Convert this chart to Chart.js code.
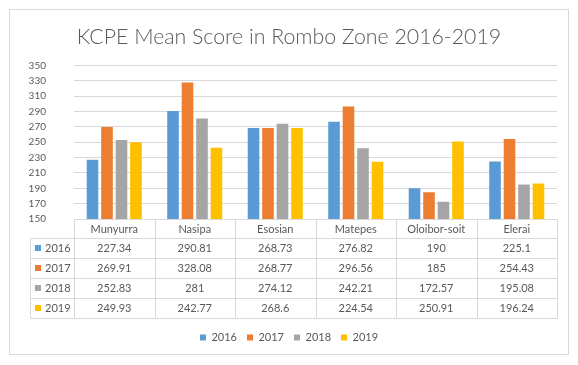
<!DOCTYPE html>
<html><head><meta charset="utf-8">
<script src="https://cdn.jsdelivr.net/npm/chart.js@4"></script>
<style>html,body{margin:0;padding:0;background:#fff}canvas{display:block}</style>
</head><body>
<canvas id="c" width="578" height="365"></canvas>
<script>
const categories = ['Munyurra','Nasipa','Esosian','Matepes','Oloibor-soit','Elerai'];
const seriesNames = ['2016','2017','2018','2019'];
const s2016 = [227.34,290.81,268.73,276.82,190,225.1];
const s2017 = [269.91,328.08,268.77,296.56,185,254.43];
const s2018 = [252.83,281,274.12,242.21,172.57,195.08];
const s2019 = [249.93,242.77,268.6,224.54,250.91,196.24];
const yMin = 150, yMax = 350, yStep = 20;
const titleText = 'KCPE Mean Score in Rombo Zone 2016-2019';
const colors = ['#5B9BD5','#ED7D31','#A5A5A5','#FFC000'];
const allSeries = [s2016, s2017, s2018, s2019];

const FONT = 'Lato, "Open Sans", sans-serif';
const TXT = '#595959';
const LINE = '#D9D9D9';

const frame = {
  id: 'frame',
  beforeDraw(chart) {
    const ctx = chart.ctx;
    ctx.save();
    ctx.fillStyle = '#fff';
    ctx.fillRect(0, 0, chart.width, chart.height);
    ctx.strokeStyle = LINE; ctx.lineWidth = 1;
    ctx.strokeRect(9.5, 9.5, 559, 345);
    ctx.restore();
  }
};

const dataTable = {
  id: 'dataTable',
  afterDraw(chart) {
    const ctx = chart.ctx, xs = chart.scales.x;
    const n = categories.length, per = (xs.right - xs.left) / n;
    const top = Math.round(chart.chartArea.bottom);
    const headH = 19, rowH = 20, keyLeft = 30;
    const bottom = top + headH + rowH * allSeries.length;
    const px = v => Math.round(v) + 0.5;
    ctx.save();
    ctx.strokeStyle = LINE; ctx.lineWidth = 1;
    ctx.beginPath();
    ctx.moveTo(px(xs.left), px(top)); ctx.lineTo(px(xs.right), px(top));
    for (let k = 0; k <= allSeries.length; k++) {
      const y = px(top + headH + k * rowH);
      ctx.moveTo(px(keyLeft), y); ctx.lineTo(px(xs.right), y);
    }
    for (let j = 0; j <= n; j++) {
      const x = px(xs.left + j * per);
      ctx.moveTo(x, px(top)); ctx.lineTo(x, px(bottom));
    }
    ctx.moveTo(px(keyLeft), px(top + headH)); ctx.lineTo(px(keyLeft), px(bottom));
    ctx.stroke();

    ctx.font = '11px ' + FONT;
    ctx.textBaseline = 'middle';
    chart.data.datasets.forEach((ds, i) => {
      const cy = top + headH + i * rowH + rowH / 2;
      ctx.fillStyle = ds.backgroundColor;
      ctx.fillRect(keyLeft + 5, Math.round(cy) - 3, 6, 6);
      ctx.fillStyle = TXT;
      ctx.textAlign = 'left';
      ctx.fillText(ds.label, keyLeft + 15, cy);
      ctx.textAlign = 'center';
      ds.data.forEach((v, j) => {
        ctx.fillText(String(v), xs.left + (j + 0.5) * per, cy);
      });
    });
    ctx.restore();
  }
};

new Chart(document.getElementById('c'), {
  type: 'bar',
  data: {
    labels: categories,
    datasets: seriesNames.map((name, i) => ({
      label: name, data: allSeries[i], backgroundColor: colors[i],
      categoryPercentage: 0.72, barPercentage: 0.8
    }))
  },
  options: {
    responsive: false, animation: false, devicePixelRatio: 1,
    layout: { padding: { left: 21, right: 21, top: 0, bottom: 12 } },
    plugins: {
      title: { display: true, text: titleText, color: TXT,
        font: { family: FONT, size: 21.3, weight: '300' }, padding: { top: 24, bottom: 16 } },
      legend: { position: 'bottom',
        labels: { boxWidth: 6, boxHeight: 6, color: TXT, font: { family: FONT, size: 11 }, padding: 10 } },
      tooltip: { enabled: false }
    },
    scales: {
      x: {
        grid: { display: false, drawTicks: false }, border: { display: false },
        ticks: { color: TXT, font: { family: FONT, size: 11 }, padding: 4 },
        afterFit(s) { s.height = 103; }
      },
      y: {
        min: yMin, max: yMax,
        ticks: { stepSize: yStep, color: TXT, font: { family: FONT, size: 10 }, padding: 28 },
        grid: { color: LINE, drawTicks: false }, border: { display: false },
        afterFit(s) { s.width = 53; }
      }
    }
  },
  plugins: [frame, dataTable]
});
</script>
</body></html>
